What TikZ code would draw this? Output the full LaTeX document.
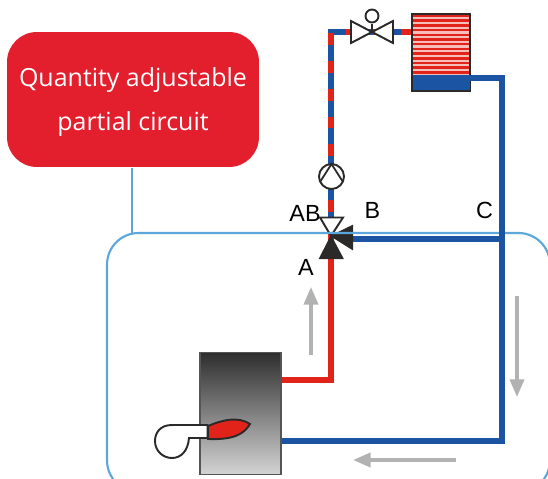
\documentclass[tikz,border=0pt]{standalone}
\usepackage{fontspec}
\setmainfont{Liberation Sans}
\newfontfamily\calloutfont{Open Sans}
\usetikzlibrary{calc, positioning, arrows.meta}
\definecolor{pipered}{HTML}{E2231A}
\definecolor{pipeblue}{HTML}{1B54A3}
\definecolor{loopblue}{HTML}{5BA7DB}
\definecolor{calloutred}{HTML}{E31E2D}
\definecolor{symbolblack}{HTML}{2B2A29}
\tikzset{
	redpipe/.style={draw=pipered, line width=3.3pt},
	bluepipe/.style={draw=pipeblue, line width=3.3pt},
	mixpipe/.style={draw=pipered, line width=3.3pt, dash pattern=on 6.8pt off 9pt},
	symbol/.style={draw=symbolblack, line width=1.1pt, fill=white},
	solidsymbol/.style={draw=symbolblack, line width=0.6pt, fill=symbolblack},
	loopline/.style={draw=loopblue, line width=1.2pt},
	flowarrow/.style={draw=black!30, line width=2pt, -{Triangle[length=10pt, width=8pt]}},
	portlabel/.style={font=\fontsize{13.3}{15}\selectfont, inner sep=0pt}
}
\begin{document}
\begin{tikzpicture}[x=0.02cm, y=-0.02cm]
      \useasboundingbox (0,0) rectangle (548,479);
      % pipes
      \coordinate (burnerred) at (281,380);
      \coordinate (burnerblue) at (281,441);
      \coordinate (mixer) at (331,236);
      \coordinate (branch) at (350,239);
      \coordinate (tankin) at (412,32);
      \coordinate (tankout) at (470,78);
      \draw[redpipe] (burnerred) -| (mixer);
      \draw[bluepipe] (branch) -- (502,239);
      \draw[bluepipe] (mixer) -- (331,32) -- (tankin);
      \draw[mixpipe, dash phase=2pt] (mixer) -- (331,32) -- (tankin);
      % tank
      \node[draw=symbolblack, line width=0.7pt, fill=pipered!30!white, minimum width=1.16cm, minimum height=1.54cm, inner sep=0pt] (tank) at (441,52.5) {};
      \foreach \y in {16,20.7,...,73} {
        \draw[pipered, line width=1.4pt] (413,\y) -- (469,\y);
      }
      \fill[pipeblue] (412.5,75) rectangle (469.5,90.5);
      \draw[symbolblack, line width=0.7pt] (tank.south west) rectangle (tank.north east);
      % stop valve
      \coordinate (stopvalve) at (372,32);
      \draw[symbol] (stopvalve) -- (351,21) -- (351,43) -- cycle;
      \draw[symbol] (stopvalve) -- (393,21) -- (393,43) -- cycle;
      \draw[symbolblack, line width=1.1pt] (stopvalve) -- ++(0,-8);
      \node[symbol, circle, minimum size=0.26cm, inner sep=0pt] (handwheel) at (372,16) {};
      % pump
      \node[symbol, circle, minimum size=0.5cm, inner sep=0pt] (pump) at (331.5,176.5) {};
      \draw[symbolblack, line width=1pt] (320,182) -- (331.5,164) -- (343,182);
      % three way valve
      \draw[symbol] (mixer) -- (320,217.5) -- (343,217.5) -- cycle;
      \draw[solidsymbol] (mixer) -- (319.5,258.5) -- (343,258.5) -- cycle;
      \draw[solidsymbol] (mixer) -- (352.5,225.5) -- (352.5,249.5) -- cycle;
      \node[portlabel] (portab) at (305,213) {AB};
      \node[portlabel] (portb) at (372.5,210.5) {B};
      \node[portlabel] (porta) at (306,267) {A};
      \node[portlabel] (portc) at (484.5,210) {C};
      % loop
      \draw[loopline, rounded corners=18pt] (107,233) rectangle (550,492);
      \coordinate (loopjoin) at (132,233);
      % callout
      \node[fill=calloutred, rounded corners=17pt, minimum width=5.04cm, minimum height=2.7cm, inner sep=0pt, text=white, align=center, font=\calloutfont\fontsize{14.2}{25}\selectfont] (callout) at (133,99.5) {\rule{0pt}{14pt}Quantity adjustable\\partial circuit};
      \draw[loopline] (loopjoin) -- ([yshift=-0.02cm]loopjoin |- callout.south);
      \draw[bluepipe] (burnerblue) -| (502,78) -- (tankout);
      % boiler
      \node[draw=symbolblack!80, line width=0.7pt, minimum width=1.62cm, minimum height=2.44cm, inner sep=0pt, top color=black!82, middle color=black!62, bottom color=black!17] (boiler) at (240.5,413.5) {};
      % blower
      \draw[symbol] (207.5,425) -- (172,425) .. controls (160,425) and (155,433) .. (155,441) .. controls (155,451) and (163,458) .. (172,458) .. controls (181,458) and (188,451) .. (189,438) -- (207.5,438) -- cycle;
      \draw[draw=symbolblack, line width=1.1pt, fill=pipered] (208,426) .. controls (222,420) and (238,416) .. (250,424) .. controls (244,434) and (234,440) .. (208,439) -- cycle;
      % flow
      \coordinate (flowa) at (311,355);
      \coordinate (flowb) at (311,287);
      \coordinate (flowc) at (517,296);
      \coordinate (flowd) at (517,397);
      \coordinate (flowe) at (456,460);
      \coordinate (flowf) at (353,460);
      \draw[flowarrow] (flowa) -- (flowb);
      \draw[flowarrow] (flowc) -- (flowd);
      \draw[flowarrow] (flowe) -- (flowf);
    \end{tikzpicture}
\end{document}
